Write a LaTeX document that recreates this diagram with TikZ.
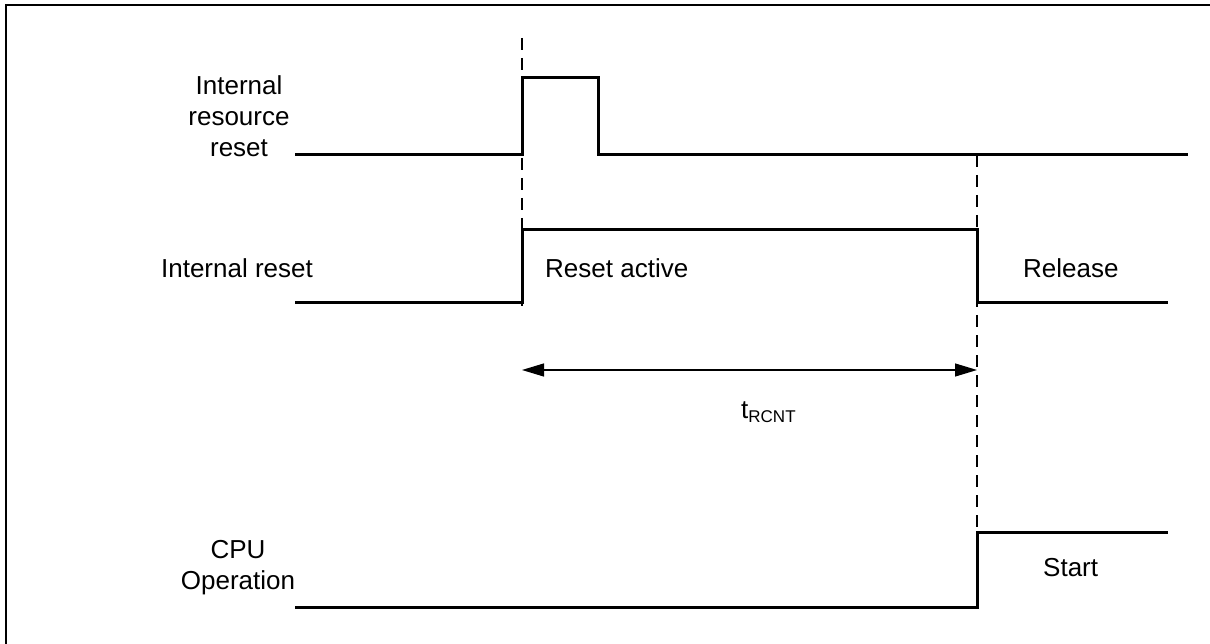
\documentclass[tikz,border=0pt]{standalone}
\usepackage{fontspec}
\setmainfont{Liberation Sans}
\usetikzlibrary{arrows.meta}
\begin{document}
\begin{tikzpicture}[x=1pt,y=-1pt,
  sig/.style={line width=3pt,line cap=butt,line join=miter},
  frame/.style={line width=2.2pt},
  guide/.style={line width=1.6pt,dash pattern=on 12pt off 8pt},
  lbl/.style={font=\fontsize{26}{31}\selectfont,inner sep=0pt,align=center},
  dim/.style={line width=1.2pt,{Triangle[length=22pt,width=13pt]}-{Triangle[length=22pt,width=13pt]}}]
\useasboundingbox (0,0) rectangle (1210,644);
% frame
\coordinate (fb) at (6,650);
\coordinate (fc) at (6,5);
\coordinate (fr) at (1215,5);
\draw[frame] (fb) -- (fc) -- (fr);
% guides
\coordinate (g1t) at (522,38);
\coordinate (g1b) at (522,306);
\coordinate (g2t) at (977,155);
\coordinate (g2b) at (977,528);
\draw[guide] (g1t) -- (g1b);
\draw[guide] (g2t) -- (g2b);
% Internal resource reset
\coordinate (a0) at (295,155);
\coordinate (a1) at (522,155);
\coordinate (a2) at (522,78);
\coordinate (a3) at (598,78);
\coordinate (a4) at (598,155);
\coordinate (a5) at (1188,155);
\draw[sig] (a0) -- (a1) -- (a2) -- (a3) -- (a4) -- (a5);
% Internal reset
\coordinate (b0) at (295,303);
\coordinate (b1) at (522,303);
\coordinate (b2) at (522,230);
\coordinate (b3) at (977,230);
\coordinate (b4) at (977,303);
\coordinate (b5) at (1168,303);
\draw[sig] (b0) -- (b1) -- (b2) -- (b3) -- (b4) -- (b5);
% CPU operation
\coordinate (c0) at (295,607);
\coordinate (c1) at (977,607);
\coordinate (c2) at (977,532);
\coordinate (c3) at (1168,532);
\draw[sig] (c0) -- (c1) -- (c2) -- (c3);
% dimension arrow
\coordinate (d1) at (522,370);
\coordinate (d2) at (977,370);
\draw[dim] (d1) -- (d2);
% labels
\node[lbl] (lirr) at (239,116) {Internal\\resource\\reset};
\node[lbl] (lir) at (237,268) {Internal reset};
\node[lbl,anchor=west] (lra) at (545,268) {Reset active};
\node[lbl,anchor=west] (lrel) at (1023,268) {Release};
\node[lbl] (lcpu) at (238,568) {CPU\\Operation};
\node[lbl,anchor=west] (lst) at (1043,568) {Start};
\node[lbl,anchor=west] (lt) at (741,412) {t\textsubscript{\fontsize{17}{20}\selectfont RCNT}};
\end{tikzpicture}
\end{document}
